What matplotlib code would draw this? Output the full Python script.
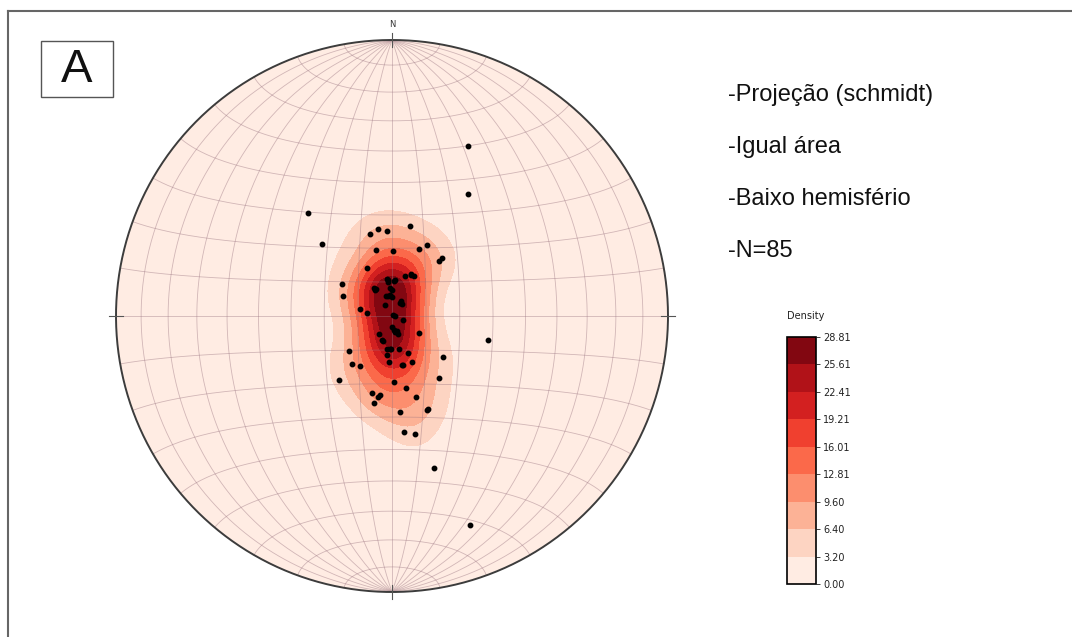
import numpy as np
import matplotlib
matplotlib.use("Agg")
import matplotlib.pyplot as plt
from matplotlib.lines import Line2D
from matplotlib.patches import Rectangle

plt.rcParams['font.family'] = ['Liberation Sans', 'DejaVu Sans']

# poles to planes, trend / plunge in degrees
trend = [321.0, 316.0, 345.2, 351.2, 356.4, 11.0, 346.4, 1.1, 21.9, 26.0,
         40.3, 41.2, 332.2, 24.2, 28.1, 17.9, 352.4, 352.9, 2.8, 302.7,
         291.8, 328.3, 327.3, 356.5, 359.3, 354.6, 0.0, 344.1, 349.9, 30.5,
         39.8, 32.6, 326.8, 282.2, 276.8, 61.7, 95.2, 111.9, 181.5, 172.8,
         168.0, 162.4, 162.9, 215.8, 202.9, 121.5, 104.2, 188.6, 182.9, 167.5,
         231.1, 157.2, 187.2, 128.4, 183.3, 157.1, 167.2, 219.6, 212.7, 219.6,
         178.5, 143.0, 168.9, 194.4, 189.5, 188.6, 191.6, 163.7, 159.6, 159.0,
         175.3, 174.3, 168.9, 24.2, 32.0, 164.6, 159.6, 353.5, 4.0, 170.0,
         181.0, 329.0, 25.5, 200.0, 168.5]
plunge = [50.2, 60.2, 64.8, 63.8, 64.9, 62.8, 70.0, 70.8, 68.7, 66.6,
          68.6, 67.4, 74.1, 76.4, 76.5, 77.6, 79.0, 79.8, 79.7, 72.5,
          74.5, 80.2, 81.0, 81.8, 82.3, 83.8, 84.5, 83.9, 83.9, 84.8,
          85.4, 85.5, 86.3, 80.4, 82.6, 89.6, 89.0, 86.6, 86.7, 86.0,
          85.4, 84.5, 85.3, 83.5, 82.5, 80.7, 60.7, 80.3, 80.4, 80.1,
          73.7, 78.2, 78.3, 70.7, 76.3, 75.2, 75.1, 71.6, 72.5, 65.6,
          70.6, 67.1, 68.3, 66.4, 65.6, 66.3, 63.6, 65.1, 60.2, 60.3,
          61.3, 55.2, 54.1, 33.0, 46.7, 42.4, 20.5, 79.3, 79.4, 85.2,
          80.2, 80.7, 76.7, 82.3, 75.4]

info_lines = ["-Projeção (schmidt)", "-Igual área", "-Baixo hemisfério", "-N=85"]
density_max = 28.812
n_levels = 10
sigma = 1.5


def project(down, east, north):
    # lambert azimuthal equal area, lower hemisphere, primitive radius sqrt(2)
    k = np.sqrt(2.0 / (1.0 + down))
    return k * east, k * north


def lonlat_vec(lon, lat):
    return np.cos(lat) * np.cos(lon), np.cos(lat) * np.sin(lon), np.sin(lat)


tr = np.radians(trend)
pl = np.radians(plunge)
pts = np.column_stack([np.sin(pl), np.cos(pl) * np.sin(tr), np.cos(pl) * np.cos(tr)])
px, py = project(pts[:, 0], pts[:, 1], pts[:, 2])

# exponential kamb density on a lon/lat grid
b = np.pi / 2
glon, glat = np.mgrid[-b:b:160j, -b:b:160j]
gd, ge, gn = lonlat_vec(glon.ravel(), glat.ravel())
counters = np.column_stack([gd, ge, gn])
n = len(pts)
f = 2 * (1.0 + n / sigma ** 2)
units = np.sqrt(n * (f / 2.0 - 1) / f ** 2)
cos_dist = np.abs(counters @ pts.T)
totals = (np.exp(f * (cos_dist - 1)).sum(axis=1) - 0.5) / units
totals[totals < 0] = 0
Z = totals.reshape(glon.shape)
GX, GY = project(gd.reshape(glon.shape), ge.reshape(glon.shape), gn.reshape(glon.shape))
Z = np.clip(Z, 0, density_max)
levels = np.linspace(0, density_max, n_levels)

fig = plt.figure(figsize=(10.72, 6.37), dpi=100)
ax = fig.add_axes([116 / 1072, 45 / 637, 552 / 1072, 552 / 637])
R = np.sqrt(2)
ax.set_xlim(-R, R)
ax.set_ylim(-R, R)
ax.set_aspect('equal')
ax.axis('off')

cs = ax.contourf(GX, GY, Z, levels=levels, cmap='Reds', zorder=1)

# grid 10 deg
t = np.radians(np.linspace(-90, 90, 361))
gcol = '#9a7480'
for d in range(-80, 90, 10):
    a = np.radians(d)
    x, y = project(*lonlat_vec(np.full_like(t, a), t))
    ax.plot(x, y, color=gcol, lw=0.6, alpha=0.45, zorder=2)
    x, y = project(*lonlat_vec(t, np.full_like(t, a)))
    ax.plot(x, y, color=gcol, lw=0.6, alpha=0.45, zorder=2)

th = np.linspace(0, 2 * np.pi, 400)
ax.plot(R * np.cos(th), R * np.sin(th), color='#3c3c3c', lw=1.4, zorder=4, clip_on=False)
tk = 0.035
ax.plot([0, 0], [R - tk, R + tk], color='#555555', lw=0.8, clip_on=False, zorder=4)
ax.plot([0, 0], [-R - tk, -R + tk], color='#555555', lw=0.8, clip_on=False, zorder=4)
ax.plot([-R - tk, -R + tk], [0, 0], color='#555555', lw=0.8, clip_on=False, zorder=4)
ax.plot([R - tk, R + tk], [0, 0], color='#555555', lw=0.8, clip_on=False, zorder=4)
ax.text(0, R + 0.055, 'N', ha='center', va='bottom', fontsize=6, color='#333333',
        family='DejaVu Sans')

ax.plot(px, py, 'o', color='black', ms=3.2, zorder=5, clip_on=False)

# colorbar
cax = fig.add_axes([787 / 1072, 53 / 637, 29 / 1072, 247 / 637])
cb = fig.colorbar(cs, cax=cax, ticks=levels, format='%.2f')
cb.outline.set_linewidth(1.2)
cax.tick_params(labelsize=7, length=3, width=0.6, pad=2, colors='#222222')
for lab in cax.get_yticklabels():
    lab.set_family('DejaVu Sans')
fig.text(806 / 1072, 1 - 316 / 637, 'Density', ha='center', va='center',
         fontsize=7, family='DejaVu Sans', color='#222222')

# text block
for i, s in enumerate(info_lines):
    fig.text(728 / 1072, 1 - (101 + 52 * i) / 637, s, ha='left', va='baseline',
             fontsize=17, color='#111111')

# panel label
fig.patches.append(Rectangle((41 / 1072, 1 - 97 / 637), 72 / 1072, 56 / 637,
                             transform=fig.transFigure, fill=False,
                             edgecolor='#555555', lw=1.0))
fig.text(77 / 1072, 1 - 70 / 637, 'A', ha='center', va='center', fontsize=34,
         color='#111111')

# outer frame (cropped at right and bottom)
fig.lines.append(Line2D([7.5 / 1072, 7.5 / 1072], [0, 1 - 11 / 637],
                        transform=fig.transFigure, color='#666666', lw=1.5))
fig.lines.append(Line2D([7.5 / 1072, 1], [1 - 11 / 637, 1 - 11 / 637],
                        transform=fig.transFigure, color='#666666', lw=1.5))

fig.savefig('out.png', dpi=100, facecolor='white')
